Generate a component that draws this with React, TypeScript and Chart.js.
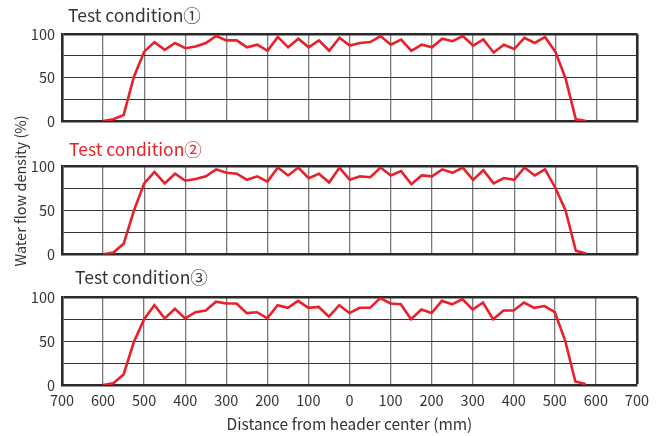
import React, { useEffect, useRef } from "react";
import { Chart, registerables } from "chart.js";

Chart.register(...registerables);

// Distance from header center (mm), sampled every 25 mm
const positions: number[] = [
  -600, -575, -550, -525, -500, -475, -450, -425, -400, -375, -350, -325,
  -300, -275, -250, -225, -200, -175, -150, -125, -100, -75, -50, -25,
  0, 25, 50, 75, 100, 125, 150, 175, 200, 225, 250, 275,
  300, 325, 350, 375, 400, 425, 450, 475, 500, 525, 550, 575,
];

const condition1: number[] = [
  0, 2, 7, 51, 80, 91, 82, 90, 84, 86, 90, 98,
  93, 93, 85, 88, 81, 97, 85, 95, 85, 93, 81, 96,
  87, 90, 91, 98, 88, 94, 81, 88, 85, 95, 92, 98,
  87, 94, 79, 88, 83, 96, 90, 97, 80, 49, 2, 0,
];

const condition2: number[] = [
  0, 2, 12, 50, 81, 94, 81, 92, 84, 86, 89, 97,
  93, 92, 85, 89, 83, 99, 90, 99, 87, 92, 82, 99,
  85, 89, 88, 99, 90, 95, 80, 90, 89, 97, 93, 99,
  85, 96, 81, 87, 85, 99, 90, 97, 76, 50, 4, 1,
];

const condition3: number[] = [
  0, 2, 12, 49, 75, 91, 76, 87, 76, 83, 85, 95,
  93, 93, 82, 83, 76, 91, 88, 96, 88, 89, 78, 91,
  82, 88, 88, 99, 93, 92, 75, 86, 82, 96, 92, 98,
  86, 94, 75, 85, 85, 94, 88, 90, 83, 51, 4, 1,
];

const panelTitles: string[] = ["Test condition①", "Test condition②", "Test condition③"];
const yAxisTitle = "Water flow density (%)";
const xAxisTitle = "Distance from header center (mm)";

const FONT = '"Noto Sans CJK JP", "Noto Sans", sans-serif';
const TEXT = "#333333";
const RED = "#e8202a";
const W = 656;
const H = 436;

type Panel = { values: number[]; top: number; bottom: number; showX: boolean };

const panels: Panel[] = [
  { values: condition1, top: 34.3, bottom: 121, showX: false },
  { values: condition2, top: 166.7, bottom: 254.3, showX: false },
  { values: condition3, top: 297.3, bottom: 385, showX: true },
];

function makeConfig(p: Panel): any {
  const xH = p.showX ? H - p.bottom : 0;
  return {
    type: "line",
    data: {
      datasets: [
        {
          data: positions.map((x, i) => ({ x, y: p.values[i] })),
          borderColor: RED,
          borderWidth: 2.6,
          pointRadius: 0,
          tension: 0,
          fill: false,
        },
      ],
    },
    options: {
      responsive: false,
      animation: false,
      layout: {
        padding: { left: 0, right: W - 637.5, top: p.top, bottom: p.showX ? 0 : H - p.bottom },
      },
      plugins: { legend: { display: false }, tooltip: { enabled: false }, title: { display: false } },
      scales: {
        x: {
          type: "linear",
          min: -700,
          max: 700,
          afterFit: (s: any) => {
            s.height = xH;
          },
          ticks: {
            display: p.showX,
            stepSize: 100,
            autoSkip: false,
            maxRotation: 0,
            padding: 7,
            color: TEXT,
            font: { family: FONT, size: 14.5 },
            callback: (v: any) => String(Math.abs(Number(v))),
          },
          grid: {
            drawTicks: false,
            color: (c: any) => (c.tick && c.tick.value === 700 ? "#2a2a2a" : "#7a7a7a"),
            lineWidth: (c: any) => (c.tick && c.tick.value === 700 ? 2.6 : 1.3),
          },
          border: { display: true, color: "#2a2a2a", width: 2.6 },
          title: {
            display: p.showX,
            text: xAxisTitle,
            color: TEXT,
            font: { family: FONT, size: 15.5 },
            padding: { top: 0, bottom: 2.5 },
          },
        },
        y: {
          min: 0,
          max: 100,
          afterFit: (s: any) => {
            s.width = 62;
          },
          ticks: {
            stepSize: 25,
            padding: 7,
            color: TEXT,
            font: { family: FONT, size: 14.5 },
            callback: (v: any) => (Number(v) % 50 === 0 ? String(v) : ""),
          },
          grid: {
            drawTicks: false,
            color: (c: any) => (c.tick && c.tick.value === 100 ? "#2a2a2a" : "#333333"),
            lineWidth: (c: any) => (c.tick && c.tick.value === 100 ? 2.6 : 1.1),
          },
          border: { display: true, color: "#2a2a2a", width: 2.6 },
        },
      },
    },
  };
}

function PanelChart({ panel }: { panel: Panel }) {
  const ref = useRef<HTMLCanvasElement | null>(null);
  useEffect(() => {
    if (!ref.current) return;
    const chart = new Chart(ref.current, makeConfig(panel));
    return () => chart.destroy();
  }, [panel]);
  return (
    <canvas
      ref={ref}
      width={W}
      height={H}
      style={{ position: "absolute", left: 0, top: 0, width: W, height: H }}
    />
  );
}

const titleCenters = [15, 149.3, 277.3];
const titleLefts = [68, 69, 75];

export default function App() {
  return (
    <div style={{ position: "absolute", left: 0, top: 0, width: W, height: H, background: "#fff", overflow: "hidden" }}>
      {panels.map((p, i) => (
        <PanelChart key={i} panel={p} />
      ))}
      {panelTitles.map((t, i) => (
        <div
          key={t}
          style={{
            position: "absolute",
            left: titleLefts[i],
            top: titleCenters[i] - 11,
            height: 22,
            lineHeight: "22px",
            fontFamily: FONT,
            fontSize: 17.5,
            color: i === 1 ? RED : TEXT,
            whiteSpace: "nowrap",
          }}
        >
          {t}
        </div>
      ))}
      <div
        style={{
          position: "absolute",
          left: 20 - 100,
          top: 191 - 10,
          width: 200,
          height: 20,
          lineHeight: "20px",
          textAlign: "center",
          fontFamily: FONT,
          fontSize: 14.5,
          color: TEXT,
          transform: "rotate(-90deg)",
          whiteSpace: "nowrap",
        }}
      >
        {yAxisTitle}
      </div>
    </div>
  );
}
